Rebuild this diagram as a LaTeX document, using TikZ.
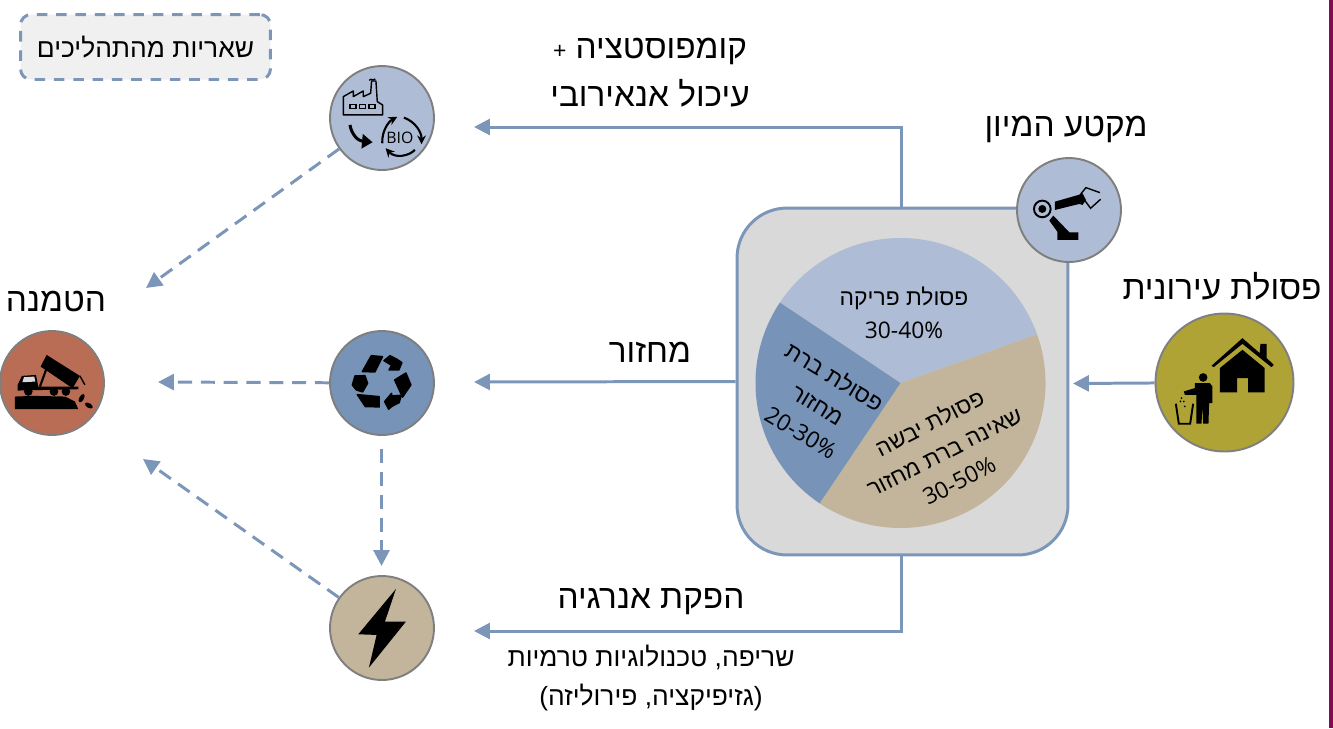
\documentclass[tikz,border=0pt]{standalone}
\usepackage{fontspec}
\setmainfont{Open Sans}
\newfontfamily\hebfont[Script=Hebrew]{Liberation Sans}
\TeXXeTstate=1
\usetikzlibrary{arrows.meta}
\definecolor{flowblue}{HTML}{7C96BA}
\definecolor{lightblue}{HTML}{AEBCD5}
\definecolor{midblue}{HTML}{7793B8}
\definecolor{tan}{HTML}{C2B59B}
\definecolor{olive}{HTML}{AFA335}
\definecolor{clay}{HTML}{B96D55}
\definecolor{rimgray}{HTML}{7F7F7F}
\definecolor{maroon}{HTML}{820B55}
\newcommand{\heb}[1]{\beginR\hebfont #1\endR}
\tikzset{
  bubble/.style={circle,draw=rimgray,line width=1.1pt,minimum size=2.08cm,inner sep=0pt},
  flow/.style={draw=flowblue,line width=1.7pt,-{Triangle[length=9pt,width=9pt]}},
  dashflow/.style={flow,dash pattern=on 8pt off 5pt},
  biglabel/.style={font=\fontsize{19}{27.5}\selectfont,align=center,inner sep=0pt},
  midlabel/.style={font=\fontsize{15}{22}\selectfont,align=center,inner sep=0pt},
  pielabel/.style={font=\fontsize{13}{18.5}\selectfont,align=center,inner sep=0pt},
  icon/.style={fill=black,draw=none},
  wire/.style={draw=black,line width=0.8pt,fill=none}
}
\begin{document}
\begin{tikzpicture}[x=0.02cm,y=-0.02cm]
\useasboundingbox (0,0) rectangle (1333,728);
\fill[maroon] (1329,0) rectangle (1333,728);
\node[draw=flowblue,fill=black!15,line width=1.7pt,rounded corners=1cm,minimum width=6.62cm,minimum height=6.94cm] (sortbox) at (902.5,381.5) {};
% pie
\coordinate (piecore) at (900.5,383);
\fill[lightblue] (piecore) -- +(-146.3:145) arc[start angle=-146.3,end angle=-19.6,radius=145] -- cycle;
\fill[tan] (piecore) -- +(-19.6:145) arc[start angle=-19.6,end angle=123.9,radius=145] -- cycle;
\fill[midblue] (piecore) -- +(123.9:145) arc[start angle=123.9,end angle=213.7,radius=145] -- cycle;
\node[pielabel] (organic) at (904,313) {\heb{פסולת פריקה}\\30-40\%};
\node[pielabel,rotate=-31] (recyclable) at (818,404) {\heb{פסולת ברת}\\\heb{מחזור}\\20-30\%};
\node[pielabel,rotate=27] (dryrest) at (944,451) {\heb{פסולת יבשה}\\\heb{שאינה ברת מחזור}\\30-50\%};
% stations
\node[bubble,fill=lightblue] (bio) at (382,118) {};
\node[bubble,fill=midblue] (recycle) at (382,383) {};
\node[bubble,fill=tan] (energy) at (382,628) {};
\node[bubble,fill=clay] (landfill) at (52,383) {};
\node[bubble,fill=lightblue] (robot) at (1069,210) {};
\node[bubble,fill=olive,minimum size=2.76cm] (city) at (1224.5,382.5) {};
% free arrow ends
\coordinate (bioin) at (474,127);
\coordinate (recyclein) at (474,382);
\coordinate (energyin) at (474,631);
\coordinate (boxin) at (1073,383.5);
\coordinate (topdrop) at (146,288);
\coordinate (middrop) at (158,382);
\coordinate (lowdrop) at (143,459);
\coordinate (energydrop) at (381.5,566);
\coordinate (recycleout) at (381.5,449);
\draw[flow] ([xshift=-0.03cm]sortbox.north) |- (bioin);
\draw[flow] (sortbox.west) -- (recyclein);
\draw[flow] ([xshift=-0.03cm]sortbox.south) |- (energyin);
\draw[flow] (city) -- (boxin);
\draw[dashflow] (bio) -- (topdrop);
\draw[dashflow] (recycle) -- (middrop);
\draw[dashflow] (energy) -- (lowdrop);
\draw[dashflow] (recycleout) -- (energydrop);
% labels
\node[biglabel] (biolabel) at (650,73) {\heb{קומפוסטציה {\fontsize{13}{13}\selectfont +}}\\\heb{עיכול אנאירובי}};
\node[biglabel] (robotlabel) at (1066,129) {\heb{מקטע המיון}};
\node[biglabel] (citylabel) at (1222,286) {\heb{פסולת עירונית}};
\node[biglabel] (fill) at (56,301) {\heb{הטמנה}};
\node[biglabel] (recyclelabel) at (650,352) {\heb{מחזור}};
\node[biglabel] (energylabel) at (651,602) {\heb{הפקת אנרגיה}};
\node[midlabel] (thermal) at (651,678) {\heb{שריפה, טכנולוגיות טרמיות}\\\heb{(גזיפיקציה, פירוליזה)}};
\node[draw=flowblue,fill=black!6,line width=1.7pt,dash pattern=on 6pt off 5pt,rounded corners=6pt,minimum width=5cm,minimum height=1.3cm,font=\fontsize{15}{18}\selectfont,inner sep=0pt] (legend) at (145.5,47) {\heb{שאריות מהתהליכים}};
% factory + bio icon
\begin{scope}[shift={(320,55)},scale=0.333]
\draw[wire,line join=round] (70,180) -- (70,125) -- (100,108) -- (100,125) -- (130,108) -- (130,125) -- (152,115) -- (155,78) -- (168,78) -- (172,140) -- (188,150) -- (188,180) -- cycle;
\draw[wire] (148,76) .. controls (155,68) and (158,80) .. (166,72);
\foreach \wx in {90,118,147}
  \draw[wire] (\wx,148) rectangle ++(18,13);
\draw[line width=1.7pt,-{Triangle[length=6pt,width=8pt]}] (90,210) .. controls (95,240) and (115,258) .. (158,262);
\node[font=\fontsize{9}{9}\selectfont,inner sep=0pt] (biotext) at (240,248) {BIO};
\draw[line width=1.2pt,-{Stealth[length=5pt,width=5pt]}] (187,265) .. controls (185,230) and (205,200) .. (232,186);
\draw[line width=1.2pt,-{Stealth[length=5pt,width=5pt]}] (252,188) .. controls (285,200) and (305,230) .. (305,268);
\draw[line width=1.2pt,-{Stealth[length=5pt,width=5pt]}] (285,285) .. controls (265,305) and (225,310) .. (197,280);
\end{scope}
% robot icon
\begin{scope}[shift={(1010,150)},scale=0.333]
\draw[line width=1.1pt] (97,177) circle (25);
\fill[icon] (97,177) circle (12);
\fill[icon] (135,155) -- (205,135) -- (218,130) -- (228,150) -- (218,165) -- (208,162) -- (135,180) -- cycle;
\draw[wire] (212,133) -- (228,113) -- (270,128);
\draw[wire] (225,152) -- (242,175) -- (272,148);
\fill[icon] (130,197) -- (118,212) -- (142,245) -- (142,270) -- (205,270) -- (205,247) -- (178,247) -- cycle;
\end{scope}
% house + person icon
\begin{scope}[shift={(1010,150)},scale=0.333]
\fill[icon] (605,648) -- (698,565) -- (750,610) -- (752,582) -- (771,582) -- (771,625) -- (792,645) -- (785,652) -- (698,582) -- (612,652) -- cycle;
\fill[icon] (630,655) -- (698,600) -- (765,655) -- (765,728) -- (715,728) -- (715,685) -- (682,685) -- (682,728) -- (630,728) -- cycle;
\fill[icon] (580,683) circle (13);
\fill[icon] (555,700) -- (600,700) -- (608,710) -- (608,760) -- (598,760) -- (596,822) -- (580,822) -- (578,770) -- (575,822) -- (560,822) -- (560,735) -- (525,735) -- (522,725) -- (555,715) -- cycle;
\draw[wire,line width=1.1pt] (498,762) -- (507,822) -- (541,822) -- (550,762);
\foreach \dx/\dy in {515/745,522/755,512/755,525/770}
  \fill[icon] (\dx,\dy) circle (2.8);
\end{scope}
% truck icon
\begin{scope}[shift={(0,270)},scale=0.333]
\fill[icon] (45,418) -- (45,380) -- (100,378) -- (195,380) -- (225,395) -- (235,418) -- cycle;
\fill[icon] (53,362) -- (53,345) -- (66,318) -- (108,315) -- (115,350) -- (235,350) -- (235,358) -- (53,362) -- cycle;
\fill[black!15] (72,322) -- (103,320) -- (106,335) -- (67,337) -- cycle;
\foreach \wx in {85,162,198}
  \fill[icon] (\wx,365) circle (13);
\fill[icon] (140,255) -- (240,318) -- (218,355) -- (122,290) -- cycle;
\draw[line width=0.8pt] (240,318) -- (255,345);
\draw[line width=1.2pt] (120,350) -- (140,295);
\fill[icon,rotate around={60:(245,385)}] (245,385) ellipse (14 and 7);
\fill[icon,rotate around={-30:(267,407)}] (267,407) ellipse (13 and 7);
\end{scope}
% recycle icon
\begin{scope}[shift={(320,320)},scale=0.333,every path/.style={draw=black,line width=0.8pt,line join=round}]
\fill[icon,draw=black] (127,155) -- (154,107) -- (188,110) -- (165,156) -- cycle;
\fill[icon,draw=black] (192,122) -- (210,107) -- (230,117) -- (246,128) -- (237,150) -- (207,150) -- (215,136) -- cycle;
\fill[icon,draw=black] (224,180) -- (258,159) -- (273,195) -- (248,232) -- cycle;
\fill[icon,draw=black] (194,245) -- (215,220) -- (215,228) -- (244,226) -- (238,248) -- (215,260) -- (206,268) -- cycle;
\fill[icon,draw=black] (112,224) -- (178,230) -- (178,261) -- (136,260) -- cycle;
\fill[icon,draw=black] (105,168) -- (135,167) -- (143,190) -- (128,216) -- (109,210) -- (97,195) -- cycle;
\end{scope}
% bolt icon
\begin{scope}[shift={(320,565)},scale=0.333]
\fill[icon] (228,72) -- (115,208) -- (170,210) -- (147,308) -- (258,170) -- (195,170) -- cycle;
\end{scope}
\end{tikzpicture}
\end{document}
